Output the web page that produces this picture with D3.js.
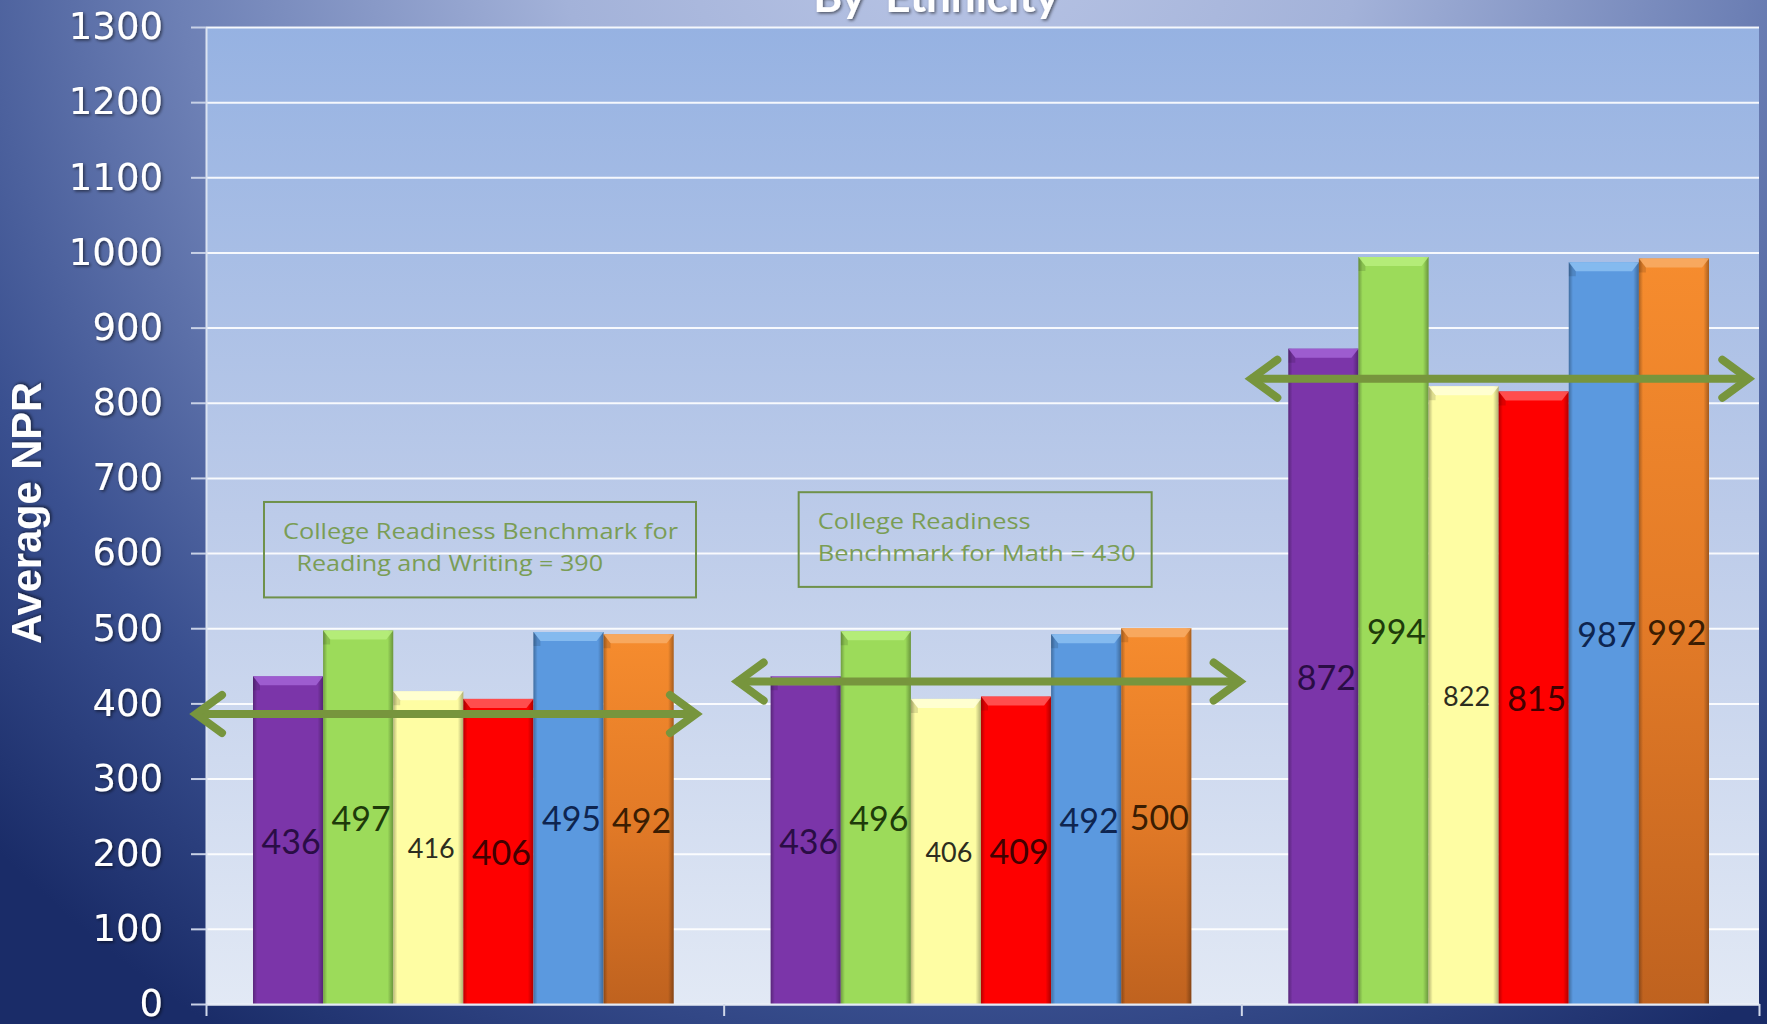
<!DOCTYPE html>
<html><head><meta charset="utf-8">
<script src="https://cdn.jsdelivr.net/npm/d3@7"></script>
<style>html,body{margin:0;padding:0;background:#1b2d69;overflow:hidden}</style>
</head><body>
<svg id="chart" width="1767" height="1024"></svg>
<script>
// ---------------- DATA ----------------
const categories = ["Critical Reading & Writing", "Math", "Total"];
const series = ["Group 1", "Group 2", "Group 3", "Group 4", "Group 5", "Group 6"];
const valuesReadingWriting = [436, 497, 416, 406, 495, 492];
const valuesMath = [436, 496, 406, 409, 492, 500];
const valuesTotal = [872, 994, 822, 815, 987, 992];
const yTicks = [0, 100, 200, 300, 400, 500, 600, 700, 800, 900, 1000, 1100, 1200, 1300];
const benchmarkLevels = [386, 429, 832];   // where the benchmark arrows sit
const noteLines1 = ["College Readiness Benchmark for", " Reading and Writing = 390"];
const noteLines2 = ["College Readiness", "Benchmark for Math = 430"];
const titleText = "By  Ethnicity";
const yTitle = "Average NPR";

// ---------------- LAYOUT / STYLE ----------------
const W = 1767, H = 1024;
const plot = {left: 206, right: 1759, top: 27, bottom: 1004};
const seriesFill = ["#7b35a9", "#9cdb5a", "#fefda3", "#fe0000", "#5b99df", "url(#orangeGrad)"];
const seriesBevel = ["#a363d6", "#b9ee7e", "#ffffd8", "#ff5a5a", "#8cc0f2", "#f8ad66"];
const labelColor = ["#2a0d45", "#1e3b0a", "#2d2d1e", "#420000", "#0e2550", "#3b1d02"];
const labelSize = [34, 34, 27, 34, 34, 34];
const arrowExtent = [[-14, 494], [10, 520], [6, 511]];   // px relative to category band start
const green = "#77953d";

const svg = d3.select("#chart");
const defs = svg.append("defs");

// background radial gradient
const bg = defs.append("radialGradient").attr("id", "bg")
  .attr("gradientUnits", "userSpaceOnUse").attr("cx", 960).attr("cy", -110).attr("r", 1360);
[[0, "#bac6e6"], [0.3, "#a3b2d9"], [0.58, "#6d80b5"], [0.8, "#3a5090"], [1, "#1a2c68"]]
  .forEach(([o, c]) => bg.append("stop").attr("offset", o).attr("stop-color", c));
svg.append("rect").attr("width", W).attr("height", H).attr("fill", "url(#bg)");

// plot area gradient
const pa = defs.append("linearGradient").attr("id", "pa").attr("x1", 0).attr("y1", 0).attr("x2", 0).attr("y2", 1);
[[0, "#96b2e2"], [0.5, "#bccbe9"], [1, "#e2e9f5"]]
  .forEach(([o, c]) => pa.append("stop").attr("offset", o).attr("stop-color", c));

const og = defs.append("linearGradient").attr("id", "orangeGrad").attr("x1", 0).attr("y1", 0).attr("x2", 0).attr("y2", 1);
[[0, "#f68c2e"], [0.5, "#e27a27"], [1, "#bf621f"]]
  .forEach(([o, c]) => og.append("stop").attr("offset", o).attr("stop-color", c));

const edge = defs.append("linearGradient").attr("id", "edge").attr("x1", 0).attr("y1", 0).attr("x2", 1).attr("y2", 0);
[[0, 0.28], [0.06, 0.0], [0.92, 0.0], [1, 0.32]]
  .forEach(([o, a]) => edge.append("stop").attr("offset", o).attr("stop-color", "#000").attr("stop-opacity", a));

const sh = defs.append("filter").attr("id", "shadow").attr("x", "-20%").attr("y", "-20%").attr("width", "140%").attr("height", "140%");
sh.append("feDropShadow").attr("dx", 1.5).attr("dy", 1.5).attr("stdDeviation", 1.5)
  .attr("flood-color", "#000").attr("flood-opacity", 0.55);

// scales
const y = d3.scaleLinear().domain([0, 1300]).range([plot.bottom, plot.top]);
const x0 = d3.scaleBand().domain(categories).range([plot.left, plot.right]).padding(0);
const x1 = d3.scaleBand().domain(series).range([47, x0.bandwidth() - 50]).padding(0);

svg.append("rect").attr("x", plot.left).attr("y", plot.top)
  .attr("width", plot.right - plot.left).attr("height", plot.bottom - plot.top).attr("fill", "url(#pa)");

// gridlines
const grid = svg.append("g").attr("transform", `translate(${plot.left},0)`)
  .call(d3.axisLeft(y).tickValues(yTicks).tickSize(-(plot.right - plot.left)).tickFormat(""));
grid.select(".domain").remove();
grid.selectAll(".tick line").attr("stroke", "#ffffff").attr("stroke-width", 2).attr("stroke-opacity", 0.9);

// bars
const allValues = [valuesReadingWriting, valuesMath, valuesTotal];
const rows = [];
categories.forEach((c, i) => series.forEach((s, j) => rows.push({c, s, j, v: allValues[i][j]})));

const bars = svg.append("g").selectAll("g.bar").data(rows).join("g").attr("class", "bar")
  .attr("transform", d => `translate(${x0(d.c) + x1(d.s)},0)`);
const bw = x1.bandwidth();
bars.append("rect").attr("x", 0).attr("y", d => y(d.v)).attr("width", bw)
  .attr("height", d => y(0) - y(d.v)).attr("fill", d => seriesFill[d.j]);
bars.append("rect").attr("x", 0).attr("y", d => y(d.v)).attr("width", bw)
  .attr("height", d => y(0) - y(d.v)).attr("fill", "url(#edge)");
bars.append("path")
  .attr("d", d => { const t = y(d.v); return `M0,${t}L${bw},${t}L${bw - 7},${t + 9}L7,${t + 9}Z`; })
  .attr("fill", d => seriesBevel[d.j]).attr("opacity", 0.85);
bars.append("path")
  .attr("d", d => { const t = y(d.v); return `M0,${t}L7,${t + 9}L7,${t + 14}L0,${t + 14}Z`; })
  .attr("fill", "#000").attr("opacity", 0.12);

// data labels
bars.append("text")
  .attr("x", bw / 2 + 3).attr("y", d => y(d.v / 2))
  .attr("text-anchor", "middle").attr("dominant-baseline", "central")
  .style("font-family", "Lato, 'Open Sans', sans-serif")
  .style("font-size", d => labelSize[d.j] + "px")
  .attr("fill", d => labelColor[d.j])
  .text(d => d.v);

// y axis
const yAxis = svg.append("g").attr("transform", `translate(${plot.left},0)`)
  .call(d3.axisLeft(y).tickValues(yTicks).tickFormat(d3.format("d"))
    .tickSize(15).tickSizeOuter(0).tickPadding(28));
yAxis.select(".domain").attr("stroke", "#dbe3f1").attr("stroke-width", 2);
yAxis.selectAll(".tick line").attr("stroke", "#c8d1e6").attr("stroke-width", 2);
yAxis.selectAll(".tick text").attr("fill", "#ffffff")
  .style("font-family", "'DejaVu Sans', sans-serif").style("font-size", "37px")
  .attr("filter", "url(#shadow)");

// x axis (category boundaries)
const xb = d3.scaleLinear().domain([0, categories.length]).range([plot.left, plot.right]);
const xAxis = svg.append("g").attr("transform", `translate(0,${plot.bottom})`)
  .call(d3.axisBottom(xb).tickValues(d3.range(categories.length + 1)).tickSize(12).tickSizeOuter(0).tickFormat(""));
xAxis.select(".domain").attr("stroke", "#e4eaf5").attr("stroke-width", 2);
xAxis.selectAll(".tick line").attr("stroke", "#d0d8ea").attr("stroke-width", 2);

// benchmark arrows
const arrows = svg.append("g").selectAll("g").data(categories).join("g");
arrows.each(function (c, i) {
  const g = d3.select(this);
  const yy = y(benchmarkLevels[i]);
  const xa = x0(c) + arrowExtent[i][0], xz = x0(c) + arrowExtent[i][1];
  g.append("line").attr("x1", xa + 3).attr("x2", xz - 3).attr("y1", yy).attr("y2", yy)
    .attr("stroke", green).attr("stroke-width", 8);
  g.append("path").attr("d", `M${xa + 30},${yy - 19}L${xa + 4},${yy}L${xa + 30},${yy + 19}`)
    .attr("fill", "none").attr("stroke", green).attr("stroke-width", 8)
    .attr("stroke-linecap", "round").attr("stroke-linejoin", "miter");
  g.append("path").attr("d", `M${xz - 30},${yy - 19}L${xz - 4},${yy}L${xz - 30},${yy + 19}`)
    .attr("fill", "none").attr("stroke", green).attr("stroke-width", 8)
    .attr("stroke-linecap", "round").attr("stroke-linejoin", "miter");
});

// annotation boxes
const notes = [
  {cat: categories[0], lines: noteLines1, dx: 58, w: 432, top: 668, bottom: 541, tx: [19, 26], tl: [395, 313]},
  {cat: categories[1], lines: noteLines2, dx: 75, w: 353, top: 681, bottom: 555, tx: [19, 19], tl: [213, 318]}
];
notes.forEach(n => {
  const g = svg.append("g");
  const bx = x0(n.cat) + n.dx, by = y(n.top), bh = y(n.bottom) - y(n.top);
  g.append("rect").attr("x", bx).attr("y", by).attr("width", n.w).attr("height", bh)
    .attr("fill", "none").attr("stroke", "#6f914a").attr("stroke-width", 2);
  n.lines.forEach((t, k) => {
    g.append("text").attr("x", bx + n.tx[k]).attr("y", by + 37 + k * 32)
      .attr("textLength", n.tl[k]).attr("lengthAdjust", "spacingAndGlyphs")
      .style("white-space", "pre")
      .style("font-family", "'Open Sans', Lato, sans-serif").style("font-size", "22px")
      .attr("fill", "#7a9d55").text(t);
  });
});

// title (mostly cut off at top, as in the reference)
svg.append("text").attr("x", 936).attr("y", 12).attr("text-anchor", "middle")
  .style("white-space", "pre")
  .style("font-family", "Lato, sans-serif").style("font-weight", "bold").style("font-size", "44px")
  .attr("fill", "#ffffff").attr("filter", "url(#shadow)").text(titleText);

// y axis title
svg.append("text").attr("transform", "translate(41,513) rotate(-90)")
  .attr("text-anchor", "middle")
  .attr("textLength", 262).attr("lengthAdjust", "spacingAndGlyphs")
  .style("font-family", "'Liberation Sans Narrow', 'Arial Narrow', 'Liberation Sans', sans-serif")
  .style("font-weight", "bold").style("font-size", "42px")
  .attr("fill", "#ffffff").attr("filter", "url(#shadow)").text(yTitle);
</script>
</body></html>
